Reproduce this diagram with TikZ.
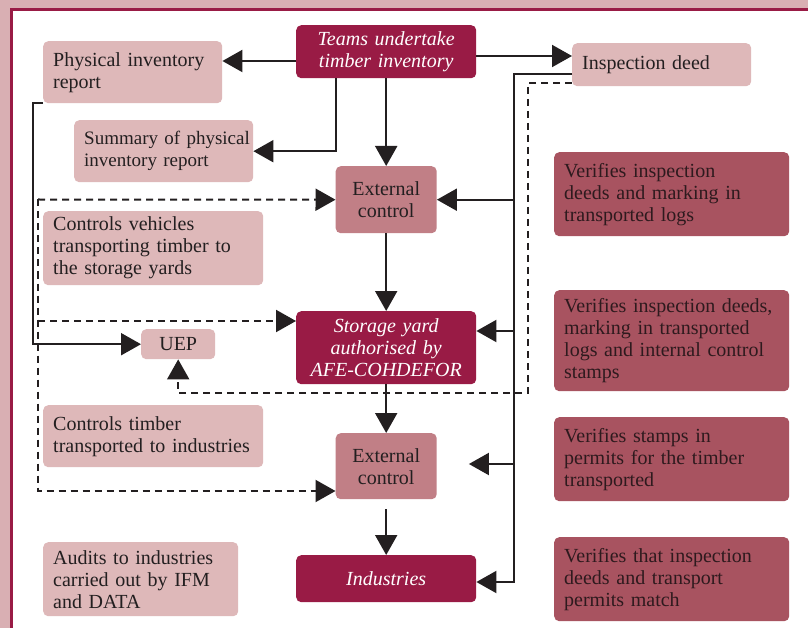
\documentclass[tikz,border=0pt]{standalone}
\usepackage{fontspec}
\setmainfont{Liberation Serif}
\usetikzlibrary{arrows.meta,positioning}
\definecolor{framerose}{HTML}{D9AFB3}
\definecolor{crimson}{HTML}{991B45}
\definecolor{midrose}{HTML}{C17F86}
\definecolor{lightrose}{HTML}{DEB8B9}
\definecolor{deeprose}{HTML}{A85360}
\definecolor{inkline}{HTML}{231F20}
\definecolor{checkink}{HTML}{2E1A1E}
\tikzstyle{panel}=[rounded corners=5pt,inner xsep=10pt,inner ysep=0pt,anchor=north west,font=\fontsize{20}{22}\selectfont]
\tikzstyle{note} = [panel, fill=lightrose, text=inkline, align=left]
\tikzstyle{check} = [panel, fill=deeprose, text=checkink, align=left, text width=215pt]
\tikzstyle{stage} = [panel, fill=crimson, text=white, align=center, text width=160pt, font=\fontsize{20}{22}\selectfont\itshape]
\tikzstyle{control} = [panel, fill=midrose, text=inkline, align=center, text width=81pt]
\tikzstyle{edge} = [draw=inkline,line width=2pt,-{Triangle[length=20pt,width=22pt]}]
\tikzstyle{dashed edge} = [edge, dash pattern=on 7pt off 5pt]

\begin{document}
\begin{tikzpicture}[x=1pt,y=-1pt]
    % frame
    \path[clip] (0,0) rectangle (808,628);
    \fill[framerose] (0,0) rectangle (808,628);
    \draw[crimson,line width=2.5pt,fill=white] (11.5,9.5) rectangle (830,650);

    % main chain
    \node[stage, minimum height=53pt] (teams) at (296,25) {Teams undertake\\timber inventory};
    \node[control, minimum height=67pt] (ext1) at (335.5,166) {External\\control};
    \node[stage, minimum height=73pt] (yard) at (296,311) {Storage yard\\authorised by\\AFE-COHDEFOR};
    \node[control, minimum height=66pt] (ext2) at (335.5,433) {External\\control};
    \node[stage, minimum height=47pt] (ind) at (296,555) {Industries};

    % documents and controls
    \node[note, text width=159pt, minimum height=62pt] (physrep) at (43,41) {Physical inventory\\report};
    \node[note, text width=159pt, minimum height=62pt, font=\fontsize{19}{22}\selectfont] (summary) at (74,120) {\mbox{Summary of physical}\\inventory report};
    \node[note, text width=159pt, minimum height=43pt] (deed) at (572,43) {Inspection deed};
    \node[note, text width=200pt, minimum height=74pt] (vehicles) at (43,211) {Controls vehicles\\transporting timber to\\the storage yards};
    \node[note, align=center, text width=54pt, minimum height=30pt] (uep) at (141,329) {UEP};
    \node[note, text width=200pt, minimum height=62pt] (transported) at (43,405) {Controls timber\\transported to industries};
    \node[note, text width=175pt, minimum height=74pt] (audits) at (43,542) {Audits to industries\\carried out by IFM\\and DATA};

    % what each control verifies
    \foreach \pos/\h/\name/\txt in {{(554,152)/84/verA/{Verifies inspection\\deeds and marking in\\transported logs}},
        {(554,290)/101/verB/{Verifies inspection deeds,\\marking in transported\\logs and internal control\\stamps}},
        {(554,417)/84/verC/{Verifies stamps in\\permits for the timber\\transported}},
        {(554,537)/84/verD/{Verifies that inspection\\deeds and transport\\permits match}}}
        \node[check, minimum height=\h pt] (\name) at \pos {\txt};

    % connect the chain
    \foreach \source/\dest in {teams/ext1, ext1/yard, yard/ext2}
        \path[edge] (\source) -- (\dest);
    \path[edge] ([yshift=-10pt]ext2.south) -- (ind.north);

    % from the teams
    \path[edge] (teams.west |- 0,61) -- (physrep.east |- 0,61);
    \path[edge] (teams.east |- 0,56) -- (deed.west |- 0,56);
    \path[edge] (teams.south -| 336,0) |- (summary.east);

    % inspection deed goes with the timber
    \coordinate (bus) at (514,582);
    \path[edge] (deed.west |- 0,74) -| (bus) -- (ind.east |- bus);
    \path[edge] (bus |- ext1) -- (ext1.east);
    \path[edge] (bus |- 0,331) -- (yard.east |- 0,331);
    \path[edge] (bus |- 0,464) -- ([xshift=32pt]ext2.east |- 0,464);
    \path[dashed edge] (deed.west |- 0,83) -| (528,393) -| (uep.south);

    % left side
    \path[edge] (physrep.south west) -| (uep.west -| 33,0) -- (uep.west);
    \coordinate (dtop) at (38,199.5);
    \path[dashed edge] (dtop) -- (ext1.west);
    \path[dashed edge] (dtop |- 0,321) -- (yard.west |- 0,321);
    \path[dashed edge] (dtop) |- (ext2.west |- 0,491);
\end{tikzpicture}
\end{document}
